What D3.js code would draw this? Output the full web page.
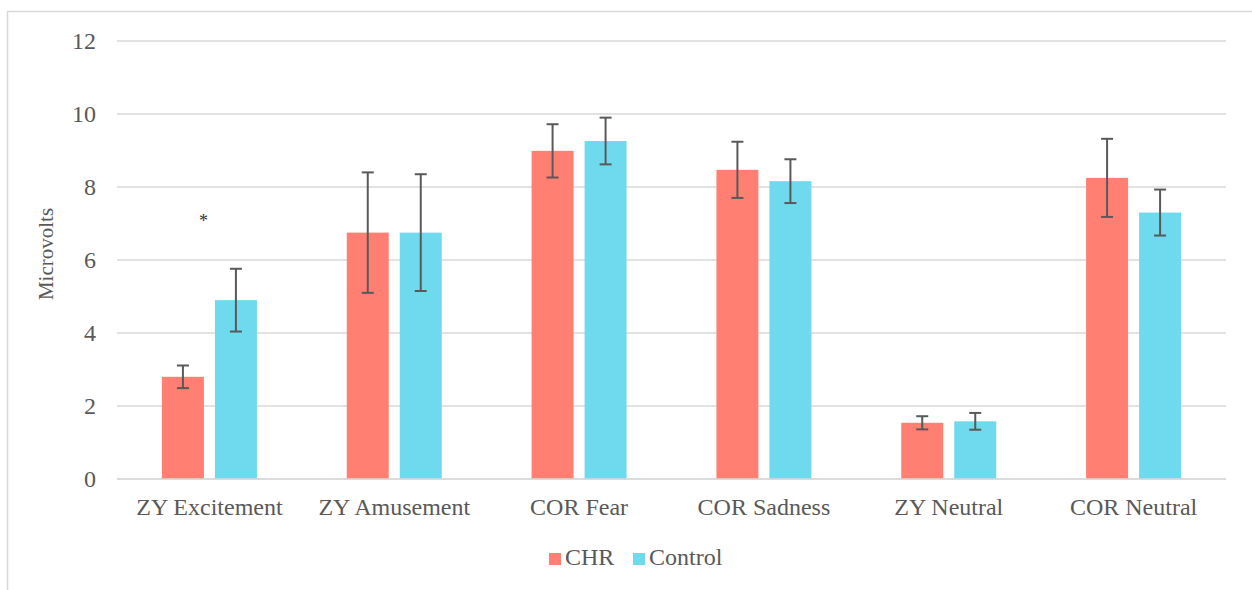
<!DOCTYPE html>
<html><head><meta charset="utf-8">
<script src="https://cdn.jsdelivr.net/npm/d3@7"></script>
<style>body{margin:0;background:#fff;} svg text{font-family:"Liberation Serif","Times New Roman","DejaVu Serif",serif !important;}</style>
</head><body>
<svg id="chart" width="1252" height="590"></svg>
<script>
const categories = ["ZY Excitement","ZY Amusement","COR Fear","COR Sadness","ZY Neutral","COR Neutral"];
const seriesNames = ["CHR","Control"];
const chrValues = [2.80, 6.75, 8.99, 8.47, 1.54, 8.25];
const chrErrors = [0.31, 1.65, 0.73, 0.77, 0.18, 1.07];
const controlValues = [4.90, 6.75, 9.26, 8.16, 1.58, 7.30];
const controlErrors = [0.86, 1.60, 0.64, 0.60, 0.23, 0.63];
const yTicks = [0,2,4,6,8,10,12];
const colors = ["#FF7F73","#6FD9EE"];

const svg = d3.select("#chart");
svg.append("rect").attr("x",7.5).attr("y",11.5).attr("width",1300).attr("height",700)
  .attr("fill","none").attr("stroke","#d9d9d9").attr("stroke-width",1.5);

const plotL=117, plotR=1226, plotT=41, plotB=479;
const x0 = d3.scaleBand().domain(categories).range([plotL,plotR]).paddingInner(0).paddingOuter(0);
const y = d3.scaleLinear().domain([0,12]).range([plotB,plotT]);

svg.append("g").selectAll("line").data(yTicks).join("line")
  .attr("x1",plotL).attr("x2",plotR).attr("y1",d=>y(d)).attr("y2",d=>y(d))
  .attr("stroke","#d9d9d9").attr("stroke-width",1.5);

const yAxis = d3.axisLeft(y).tickValues(yTicks).tickSize(0).tickPadding(21);
const gy = svg.append("g").attr("transform",`translate(${plotL},0)`).call(yAxis);
gy.select(".domain").remove();
gy.selectAll("text").attr("font-size",24).attr("fill","#595959");

svg.append("text").attr("transform","translate(53,254) rotate(-90)")
  .attr("text-anchor","middle").attr("font-size",21).attr("fill","#595959").text("Microvolts");

const data = categories.map((c,i)=>({cat:c, vals:[
  {s:0,v:chrValues[i],e:chrErrors[i]},{s:1,v:controlValues[i],e:controlErrors[i]}]}));

const barW = 42, gap = 11;
const bx = (c,s) => x0(c)+x0.bandwidth()/2 + (s===0 ? -gap/2-barW : gap/2);

const g = svg.append("g");
data.forEach(d=>{
  d.vals.forEach(p=>{
    g.append("rect").attr("x",bx(d.cat,p.s)).attr("y",y(p.v)).attr("width",barW)
      .attr("height",y(0)-y(p.v)).attr("fill",colors[p.s]);
  });
});
data.forEach(d=>{
  d.vals.forEach(p=>{
    const cx = bx(d.cat,p.s)+barW/2;
    const eg = g.append("g").attr("stroke","#595959").attr("stroke-width",2);
    eg.append("line").attr("x1",cx).attr("x2",cx).attr("y1",y(p.v+p.e)).attr("y2",y(p.v-p.e));
    eg.append("line").attr("x1",cx-6).attr("x2",cx+6).attr("y1",y(p.v+p.e)).attr("y2",y(p.v+p.e));
    eg.append("line").attr("x1",cx-6).attr("x2",cx+6).attr("y1",y(p.v-p.e)).attr("y2",y(p.v-p.e));
  });
});

svg.append("line").attr("x1",plotL).attr("x2",plotR).attr("y1",y(0)).attr("y2",y(0))
  .attr("stroke","#d9d9d9").attr("stroke-width",1.5);

const xAxis = d3.axisBottom(x0).tickSize(0).tickPadding(19);
const gx = svg.append("g").attr("transform",`translate(0,${plotB})`).call(xAxis);
gx.select(".domain").remove();
gx.selectAll("text").attr("font-size",24).attr("fill","#595959");

svg.append("text").attr("x",x0(categories[0])+x0.bandwidth()/2-6).attr("y",y(6.9)).attr("text-anchor","middle")
  .attr("font-size",18).attr("fill","#333").text("*");

const legX = [549, 633];
const lg = svg.append("g");
seriesNames.forEach((s,i)=>{
  lg.append("rect").attr("x",legX[i]).attr("y",553).attr("width",12).attr("height",12).attr("fill",colors[i]);
  lg.append("text").attr("x",legX[i]+16).attr("y",565).attr("font-size",24).attr("fill","#595959").text(s);
});
</script>
</body></html>
